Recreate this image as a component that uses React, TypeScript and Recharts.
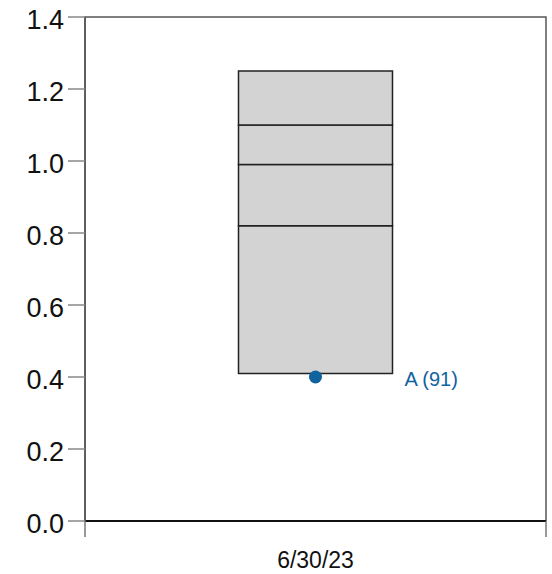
import {
  ComposedChart,
  Bar,
  Scatter,
  XAxis,
  YAxis,
  ReferenceArea,
} from "recharts";

// one box per category
const categories = ["6/30/23"];
const boxLow = [0.41];
const boxQ1 = [0.82];
const boxMedian = [0.99];
const boxQ3 = [1.1];
const boxHigh = [1.25];

const pointValues = [0.4];
const pointLabels = ["A (91)"];

const yTicks = [0, 0.2, 0.4, 0.6, 0.8, 1.0, 1.2, 1.4];

const font = "'Liberation Sans', Arial, sans-serif";
const blue = "#10639e";
const boxFill = "#d3d3d3";
const boxStroke = "#222";

const data = categories.map((category, i) => ({
  x: i + 0.5,
  category,
  base: boxLow[i],
  seg1: boxQ1[i] - boxLow[i],
  seg2: boxMedian[i] - boxQ1[i],
  seg3: boxQ3[i] - boxMedian[i],
  seg4: boxHigh[i] - boxQ3[i],
  point: pointValues[i],
  label: pointLabels[i],
}));

const xTicks = [0, ...categories.flatMap((_, i) => [i + 0.5, i + 1])];

interface TickProps {
  x?: number;
  y?: number;
  payload?: { value: number };
}

const XTick = ({ x = 0, y = 0, payload }: TickProps) => {
  const v = payload?.value ?? 0;
  if (Number.isInteger(v)) {
    return <line x1={x} y1={y} x2={x} y2={y + 16} stroke="#777" strokeWidth={1.5} />;
  }
  const name = categories[Math.floor(v)];
  return (
    <text x={x} y={y + 47} textAnchor="middle" fontSize={23} fill="#111" fontFamily={font}>
      {name}
    </text>
  );
};

const YTick = ({ x = 0, y = 0, payload }: TickProps) => (
  <text x={x} y={y + 12} textAnchor="end" fontSize={27} fill="#111" fontFamily={font}>
    {(payload?.value ?? 0).toFixed(1)}
  </text>
);

interface DotProps {
  cx?: number;
  cy?: number;
  payload?: { label: string };
}

const PointShape = ({ cx = 0, cy = 0, payload }: DotProps) => (
  <g>
    <circle cx={cx} cy={cy} r={6.5} fill={blue} />
    <text x={cx + 89} y={cy + 9} fontSize={20} fill={blue} fontFamily={font}>
      {payload?.label}
    </text>
  </g>
);

export default function App() {
  return (
    <div style={{ position: "absolute", left: 0, top: 0 }}>
      <ComposedChart
        width={552}
        height={574}
        data={data}
        margin={{ top: 17, right: 6, left: 0, bottom: 0 }}
        style={{ fontFamily: font }}
      >
        <ReferenceArea x1={0} x2={categories.length} y1={0} y2={1.4} fill="none" stroke="#555" strokeWidth={1.5} />
        <XAxis
          dataKey="x"
          type="number"
          domain={[0, categories.length]}
          ticks={xTicks}
          interval={0}
          height={53}
          tickLine={false}
          tickSize={0}
          tickMargin={0}
          tick={<XTick />}
          axisLine={{ stroke: "#111", strokeWidth: 2 }}
        />
        <YAxis
          type="number"
          domain={[0, 1.4]}
          ticks={yTicks}
          interval={0}
          width={85}
          tickSize={17}
          tickMargin={4}
          tick={<YTick />}
          tickLine={{ stroke: "#888", strokeWidth: 1.5 }}
          axisLine={{ stroke: "#555", strokeWidth: 1.5 }}
        />
        <Bar dataKey="base" stackId="box" fill="none" barSize={154} isAnimationActive={false} />
        <Bar dataKey="seg1" stackId="box" fill={boxFill} stroke={boxStroke} strokeWidth={1.5} barSize={154} isAnimationActive={false} />
        <Bar dataKey="seg2" stackId="box" fill={boxFill} stroke={boxStroke} strokeWidth={1.5} barSize={154} isAnimationActive={false} />
        <Bar dataKey="seg3" stackId="box" fill={boxFill} stroke={boxStroke} strokeWidth={1.5} barSize={154} isAnimationActive={false} />
        <Bar dataKey="seg4" stackId="box" fill={boxFill} stroke={boxStroke} strokeWidth={1.5} barSize={154} isAnimationActive={false} />
        <Scatter dataKey="point" shape={<PointShape />} isAnimationActive={false} />
      </ComposedChart>
    </div>
  );
}
